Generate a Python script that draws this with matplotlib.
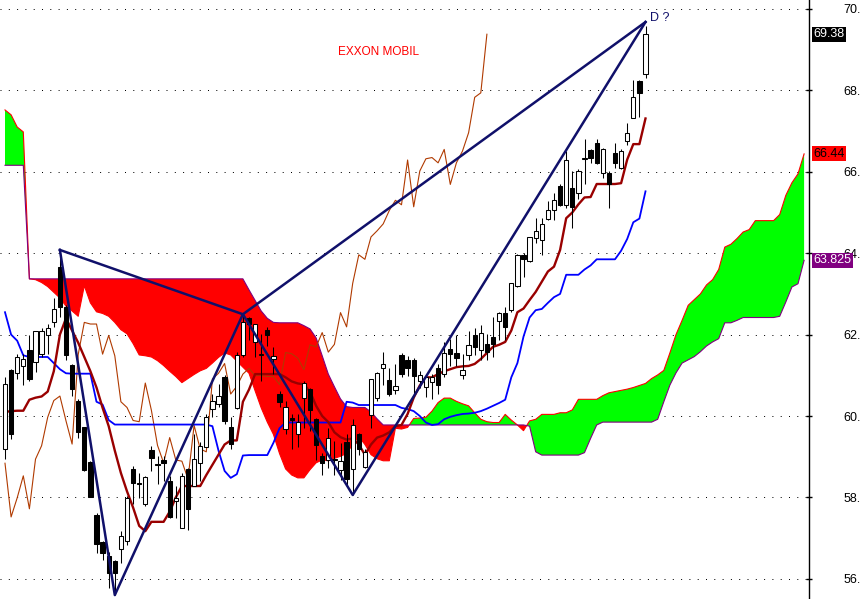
"""Exxon Mobil daily candles with Ichimoku cloud and a harmonic XABCD sketch."""

import numpy as np
import matplotlib
matplotlib.use("Agg")
import matplotlib.pyplot as plt
from matplotlib.transforms import blended_transform_factory

plt.rcParams["font.family"] = ["Liberation Sans", "DejaVu Sans"]

TITLE = "EXXON MOBIL"

# candles, one per session (index 0 = leftmost bar)
OPEN = [59.19, 61.14, 61.06, 61.23, 61.61, 61.33, 61.53, 61.98, 62.31, 63.65,
        62.68, 61.26, 60.38, 59.72, 58.87, 57.56, 56.90, 56.55, 56.43, 56.73,
        56.94, 58.69, 58.35, 57.83, 59.16, 58.81, 58.92, 58.40, 57.91, 57.25,
        58.69, 58.28, 58.84, 59.25, 60.17, 60.30, 60.97, 59.72, 60.20, 61.51,
        62.40, 61.82, 61.50, 62.12, 61.40, 60.54, 59.67, 59.96, 59.57, 60.45,
        60.67, 59.92, 59.01, 58.93, 58.94, 58.67, 59.35, 58.70, 59.55, 58.74,
        60.02, 60.45, 61.18, 60.89, 60.63, 61.50, 61.37, 61.37, 60.85, 60.71,
        60.83, 61.19, 61.04, 61.65, 61.56, 61.00, 61.49, 61.98, 61.63, 61.76,
        61.94, 62.33, 62.52, 62.60, 63.19, 63.96, 63.81, 64.37, 64.33, 64.85,
        65.07, 65.66, 65.19, 65.60, 65.48, 66.31, 66.53, 66.70, 65.98, 65.96,
        66.47, 66.10, 66.76, 67.31, 68.23, 68.40]
HIGH = [60.95, 61.16, 61.53, 61.53, 61.98, 62.10, 62.15, 62.25, 62.89, 64.10,
        62.72, 61.28, 60.42, 59.72, 58.90, 57.62, 56.92, 56.67, 56.47, 57.17,
        58.03, 58.77, 58.61, 58.53, 59.27, 59.02, 59.02, 58.53, 58.28, 58.61,
        58.73, 59.56, 59.35, 60.05, 60.54, 60.79, 61.00, 59.97, 61.57, 62.50,
        62.44, 62.27, 62.02, 62.18, 61.69, 60.62, 60.37, 60.04, 60.04, 60.86,
        60.70, 59.96, 59.09, 59.71, 59.38, 59.34, 59.55, 59.92, 59.59, 59.18,
        60.91, 61.07, 61.58, 61.19, 61.28, 61.56, 61.48, 61.42, 61.11, 61.04,
        61.04, 61.28, 61.82, 61.90, 62.00, 61.53, 62.09, 62.15, 62.23, 62.02,
        62.44, 62.56, 62.68, 63.28, 63.98, 64.00, 64.41, 64.86, 64.86, 65.28,
        65.47, 65.69, 66.51, 66.02, 66.06, 66.80, 66.57, 66.80, 66.58, 66.02,
        66.70, 66.55, 67.21, 68.26, 68.26, 69.58]
LOW = [58.94, 59.43, 60.91, 60.75, 60.87, 61.08, 61.45, 61.53, 62.19, 62.44,
       61.37, 60.50, 59.47, 58.65, 58.00, 56.63, 56.47, 55.77, 55.60, 56.39,
       56.84, 57.83, 57.99, 57.79, 58.65, 58.32, 58.40, 57.50, 57.50, 57.25,
       57.21, 58.28, 58.40, 59.23, 59.97, 60.21, 59.80, 59.19, 60.17, 61.45,
       61.86, 61.45, 60.86, 61.73, 61.03, 60.21, 59.55, 59.18, 59.23, 59.71,
       59.63, 58.93, 58.56, 58.72, 58.56, 58.44, 58.31, 58.05, 59.05, 58.72,
       59.71, 60.37, 60.77, 60.49, 60.54, 60.95, 60.99, 60.54, 60.70, 60.46,
       60.42, 60.54, 60.95, 61.24, 61.24, 60.91, 61.37, 61.49, 61.37, 61.37,
       61.45, 61.86, 61.86, 62.56, 63.18, 63.41, 63.79, 64.25, 63.96, 64.82,
       64.82, 65.17, 65.11, 64.62, 65.32, 65.69, 66.22, 66.18, 65.85, 65.11,
       66.10, 66.06, 66.67, 67.31, 67.34, 68.30]
CLOSE = [60.79, 59.57, 61.45, 61.41, 60.90, 62.08, 62.08, 62.15, 62.64, 62.67,
         61.51, 60.67, 59.61, 58.67, 58.02, 56.86, 56.63, 56.14, 56.14, 57.05,
         57.99, 58.36, 58.33, 58.49, 58.98, 58.79, 58.84, 57.52, 57.99, 58.53,
         57.72, 58.94, 59.27, 59.97, 60.38, 60.49, 59.88, 59.31, 61.51, 62.30,
         62.26, 62.26, 61.52, 61.98, 61.48, 60.35, 60.21, 59.89, 59.86, 60.81,
         60.14, 59.28, 58.85, 59.47, 58.92, 58.89, 58.45, 59.77, 59.19, 59.12,
         60.91, 61.05, 61.29, 60.54, 60.73, 61.03, 61.17, 60.99, 61.00, 60.97,
         60.97, 60.77, 61.56, 61.53, 61.42, 61.14, 61.75, 61.70, 62.05, 61.57,
         61.76, 62.54, 62.19, 63.26, 63.96, 63.85, 64.40, 64.55, 64.72, 65.05,
         65.30, 65.19, 66.29, 65.14, 66.02, 66.32, 66.35, 66.22, 66.55, 65.69,
         66.22, 66.51, 66.96, 67.83, 67.94, 69.38]

# Ichimoku lines, one value per bar
TENKAN = [60.10, 60.12, 60.13, 60.13, 60.40, 60.45, 60.48, 60.60, 61.10, 62.00,
          62.40, 62.10, 61.80, 61.45, 61.10, 60.70, 60.20, 59.75, 59.15, 58.60,
          58.15, 57.75, 57.30, 57.17, 57.40, 57.40, 57.40, 57.65, 58.00, 58.28,
          58.28, 58.28, 58.28, 58.55, 58.80, 59.05, 59.30, 59.40, 59.40, 60.35,
          60.65, 61.03, 61.03, 61.03, 61.03, 61.03, 60.95, 60.85, 60.80, 60.78,
          60.60, 60.25, 60.00, 59.85, 59.60, 59.48, 59.42, 59.45, 59.30, 59.05,
          59.30, 59.47, 59.52, 59.60, 59.75, 59.78, 60.05, 60.45, 60.75, 60.95,
          60.95, 61.03, 61.10, 61.15, 61.20, 61.22, 61.23, 61.28, 61.40, 61.55,
          61.70, 61.75, 61.82, 62.10, 62.55, 62.64, 62.85, 63.05, 63.30, 63.55,
          63.67, 64.08, 64.86, 65.00, 65.20, 65.37, 65.38, 65.70, 65.70, 65.70,
          65.70, 65.72, 66.30, 66.68, 66.68, 67.31]
KIJUN = [62.55, 62.00, 61.85, 61.49, 61.45, 61.45, 61.45, 61.45, 61.30, 61.15,
         61.05, 61.04, 61.04, 61.04, 61.04, 60.35, 60.28, 59.90, 59.79, 59.79,
         59.79, 59.79, 59.79, 59.79, 59.79, 59.79, 59.79, 59.79, 59.79, 59.79,
         59.79, 59.79, 59.79, 59.79, 59.75, 59.15, 58.65, 58.48, 58.57, 59.03,
         59.04, 59.04, 59.04, 59.04, 59.34, 59.70, 59.84, 59.84, 59.84, 59.84,
         59.84, 59.84, 59.84, 59.84, 59.84, 59.84, 60.35, 60.33, 60.27, 60.27,
         60.27, 60.27, 60.27, 60.27, 60.27, 60.20, 60.17, 60.12, 60.00, 59.84,
         59.78, 59.80, 59.92, 59.98, 60.02, 60.05, 60.06, 60.08, 60.12, 60.18,
         60.25, 60.32, 60.40, 60.95, 61.30, 61.95, 62.42, 62.60, 62.63, 62.78,
         62.92, 63.00, 63.47, 63.47, 63.47, 63.60, 63.70, 63.85, 63.85, 63.85,
         63.85, 64.06, 64.35, 64.76, 64.85, 65.52]
# leading spans run 26 bars past the last candle
SPAN_A = [67.52, 67.40, 67.10, 66.98, 63.37, 63.35, 63.28, 63.18, 63.04, 62.90,
          62.70, 62.58, 62.45, 63.20, 62.78, 62.56, 62.52, 62.45, 62.30, 62.12,
          62.02, 61.78, 61.50, 61.48, 61.45, 61.36, 61.24, 61.10, 60.97, 60.82,
          60.92, 61.02, 61.11, 61.17, 61.30, 61.44, 61.55, 61.50, 61.35, 61.20,
          61.05, 60.62, 60.20, 59.85, 59.55, 59.08, 58.70, 58.55, 58.48, 58.48,
          58.68, 58.85, 58.92, 58.90, 58.96, 59.01, 59.08, 59.30, 59.50, 59.30,
          59.05, 58.95, 58.90, 58.90, 59.70, 59.68, 59.72, 59.94, 59.95, 59.97,
          60.12, 60.33, 60.44, 60.44, 60.36, 60.30, 60.25, 60.08, 59.92, 59.86,
          59.84, 59.84, 60.04, 59.90, 59.78, 59.64, 59.88, 59.92, 60.04, 60.04,
          60.04, 60.08, 60.08, 60.15, 60.41, 60.41, 60.41, 60.41, 60.50, 60.57,
          60.60, 60.63, 60.66, 60.70, 60.75, 60.80, 60.92, 61.01, 61.12, 61.55,
          62.00, 62.35, 62.72, 62.86, 63.00, 63.22, 63.35, 63.60, 64.15, 64.22,
          64.36, 64.52, 64.58, 64.80, 64.80, 64.80, 64.80, 64.95, 65.42, 65.73,
          65.95, 66.44]
SPAN_B = [66.16, 66.16, 66.16, 66.16, 63.37, 63.37, 63.37, 63.37, 63.37, 63.37,
          63.37, 63.37, 63.37, 63.37, 63.37, 63.37, 63.37, 63.37, 63.37, 63.37,
          63.37, 63.37, 63.37, 63.37, 63.37, 63.37, 63.37, 63.37, 63.37, 63.37,
          63.37, 63.37, 63.37, 63.37, 63.37, 63.37, 63.37, 63.37, 63.37, 63.37,
          63.10, 62.84, 62.58, 62.40, 62.30, 62.29, 62.29, 62.29, 62.29, 62.22,
          62.14, 61.92, 61.48, 61.03, 60.72, 60.42, 60.23, 60.21, 60.21, 60.21,
          60.10, 59.93, 59.78, 59.78, 59.78, 59.78, 59.78, 59.78, 59.78, 59.78,
          59.78, 59.78, 59.78, 59.78, 59.78, 59.78, 59.78, 59.78, 59.78, 59.78,
          59.78, 59.78, 59.78, 59.78, 59.78, 59.78, 59.75, 59.12, 59.04, 59.04,
          59.04, 59.04, 59.04, 59.04, 59.04, 59.10, 59.45, 59.78, 59.85, 59.85,
          59.85, 59.85, 59.85, 59.85, 59.85, 59.85, 59.85, 59.92, 60.35, 60.76,
          61.06, 61.30, 61.38, 61.46, 61.58, 61.72, 61.82, 61.90, 62.29, 62.29,
          62.35, 62.42, 62.42, 62.42, 62.42, 62.42, 62.42, 62.45, 62.80, 63.17,
          63.25, 63.825]
CHIKOU_SHIFT = 26

# harmonic pattern pivots X, A, B, C, D
PATTERN_BAR = [9, 18, 39, 57, 105]
PATTERN_PRICE = [64.08, 55.60, 62.50, 58.06, 69.68]

TICKS = [56, 58, 60, 62, 64, 66, 68, 70]
TICK_LABELS = ["56.", "58.", "60.", "62.", "64.", "66.", "68.", "70."]

TENKAN_COLOR = "#990000"
KIJUN_COLOR = "#0000ff"
CHIKOU_COLOR = "#b03a00"
SPAN_A_COLOR = "#ff0000"
SPAN_B_COLOR = "#800080"
PATTERN_COLOR = "#10106a"


def draw_candles(ax, idx, o, h, l, c):
    ax.vlines(idx, l, h, color="black", linewidth=0.75, zorder=4)
    up = c >= o
    bottom = np.minimum(o, c)
    height = np.maximum(np.abs(c - o), 0.025)
    ax.bar(idx[up], height[up], bottom=bottom[up], width=0.7,
           facecolor="white", edgecolor="black", linewidth=0.75, zorder=5)
    ax.bar(idx[~up], height[~up], bottom=bottom[~up], width=0.7,
           facecolor="black", edgecolor="black", linewidth=0.75, zorder=5)


def main():
    o, h, l, c = (np.array(v) for v in (OPEN, HIGH, LOW, CLOSE))
    bars = np.arange(len(c))
    span_a = np.array(SPAN_A)
    span_b = np.array(SPAN_B)
    cloud_idx = np.arange(len(span_a))

    fig = plt.figure(figsize=(8.6, 5.99), dpi=100)
    ax = fig.add_axes([0, 0, 809 / 860, 1])

    # Kumo
    ax.fill_between(cloud_idx, span_a, span_b, where=span_a >= span_b,
                    interpolate=True, color="#00ff00", linewidth=0, zorder=1)
    ax.fill_between(cloud_idx, span_a, span_b, where=span_a < span_b,
                    interpolate=True, color="#ff0000", linewidth=0, zorder=1)
    ax.plot(cloud_idx, span_a, color=SPAN_A_COLOR, linewidth=0.8, zorder=2)
    ax.plot(cloud_idx, span_b, color=SPAN_B_COLOR, linewidth=0.8, zorder=2)

    # lagging span is the close drawn 26 bars back
    ax.plot(bars[:-CHIKOU_SHIFT], c[CHIKOU_SHIFT:], color=CHIKOU_COLOR,
            linewidth=0.8, zorder=3)
    ax.plot(bars, KIJUN, color=KIJUN_COLOR, linewidth=1.3, zorder=3)
    ax.plot(bars, TENKAN, color=TENKAN_COLOR, linewidth=1.7, zorder=3)

    draw_candles(ax, bars, o, h, l, c)

    # XABCD legs plus the X-B and B-D connectors
    px, py = PATTERN_BAR, PATTERN_PRICE
    ax.plot(px, py, color=PATTERN_COLOR, linewidth=1.8, zorder=6)
    ax.plot([px[0], px[2], px[4]], [py[0], py[2], py[4]],
            color=PATTERN_COLOR, linewidth=1.8, zorder=6)
    ax.annotate("D ?", xy=(px[4], py[4]), xytext=(5, -2),
                textcoords="offset pixels", color=PATTERN_COLOR,
                fontsize=9, va="bottom", ha="left", zorder=7)

    fig.text(378 / 860, 1 - 52 / 599, TITLE, color="red", fontsize=8.5,
             ha="center", va="center")

    ax.set_xlim(-5 / 6.1, 804 / 6.1)
    ax.set_ylim(55.504, 70.221)
    ax.set_xticks([])
    ax.yaxis.tick_right()
    ax.set_yticks(TICKS)
    ax.set_yticklabels(TICK_LABELS)
    ax.tick_params(axis="y", direction="inout", length=5, width=1,
                   pad=22, labelsize=9)
    for side in ("left", "top", "bottom"):
        ax.spines[side].set_visible(False)
    ax.spines["right"].set_linewidth(1)
    ax.grid(axis="y", color="black", linestyle=(0, (1, 7.3)), linewidth=0.72)
    ax.set_axisbelow(True)

    # last-value tags on the price scale
    trans = blended_transform_factory(ax.transAxes, ax.transData)
    tags = [(c[-1], "black", "white"), (span_a[-1], "#ff0000", "black"),
            (span_b[-1], "#800080", "white")]
    for value, bg, fg in tags:
        label = f"{value:.3f}".rstrip("0") if value != c[-1] else f"{value:.2f}"
        ax.text(1 + 4 / 809, value, label, transform=trans, color=fg,
                fontsize=9, va="center", ha="left", clip_on=False, zorder=8,
                bbox=dict(boxstyle="square,pad=0.12", facecolor=bg,
                          edgecolor="none"))

    fig.savefig("out.png", dpi=100, facecolor="white")


if __name__ == "__main__":
    main()
